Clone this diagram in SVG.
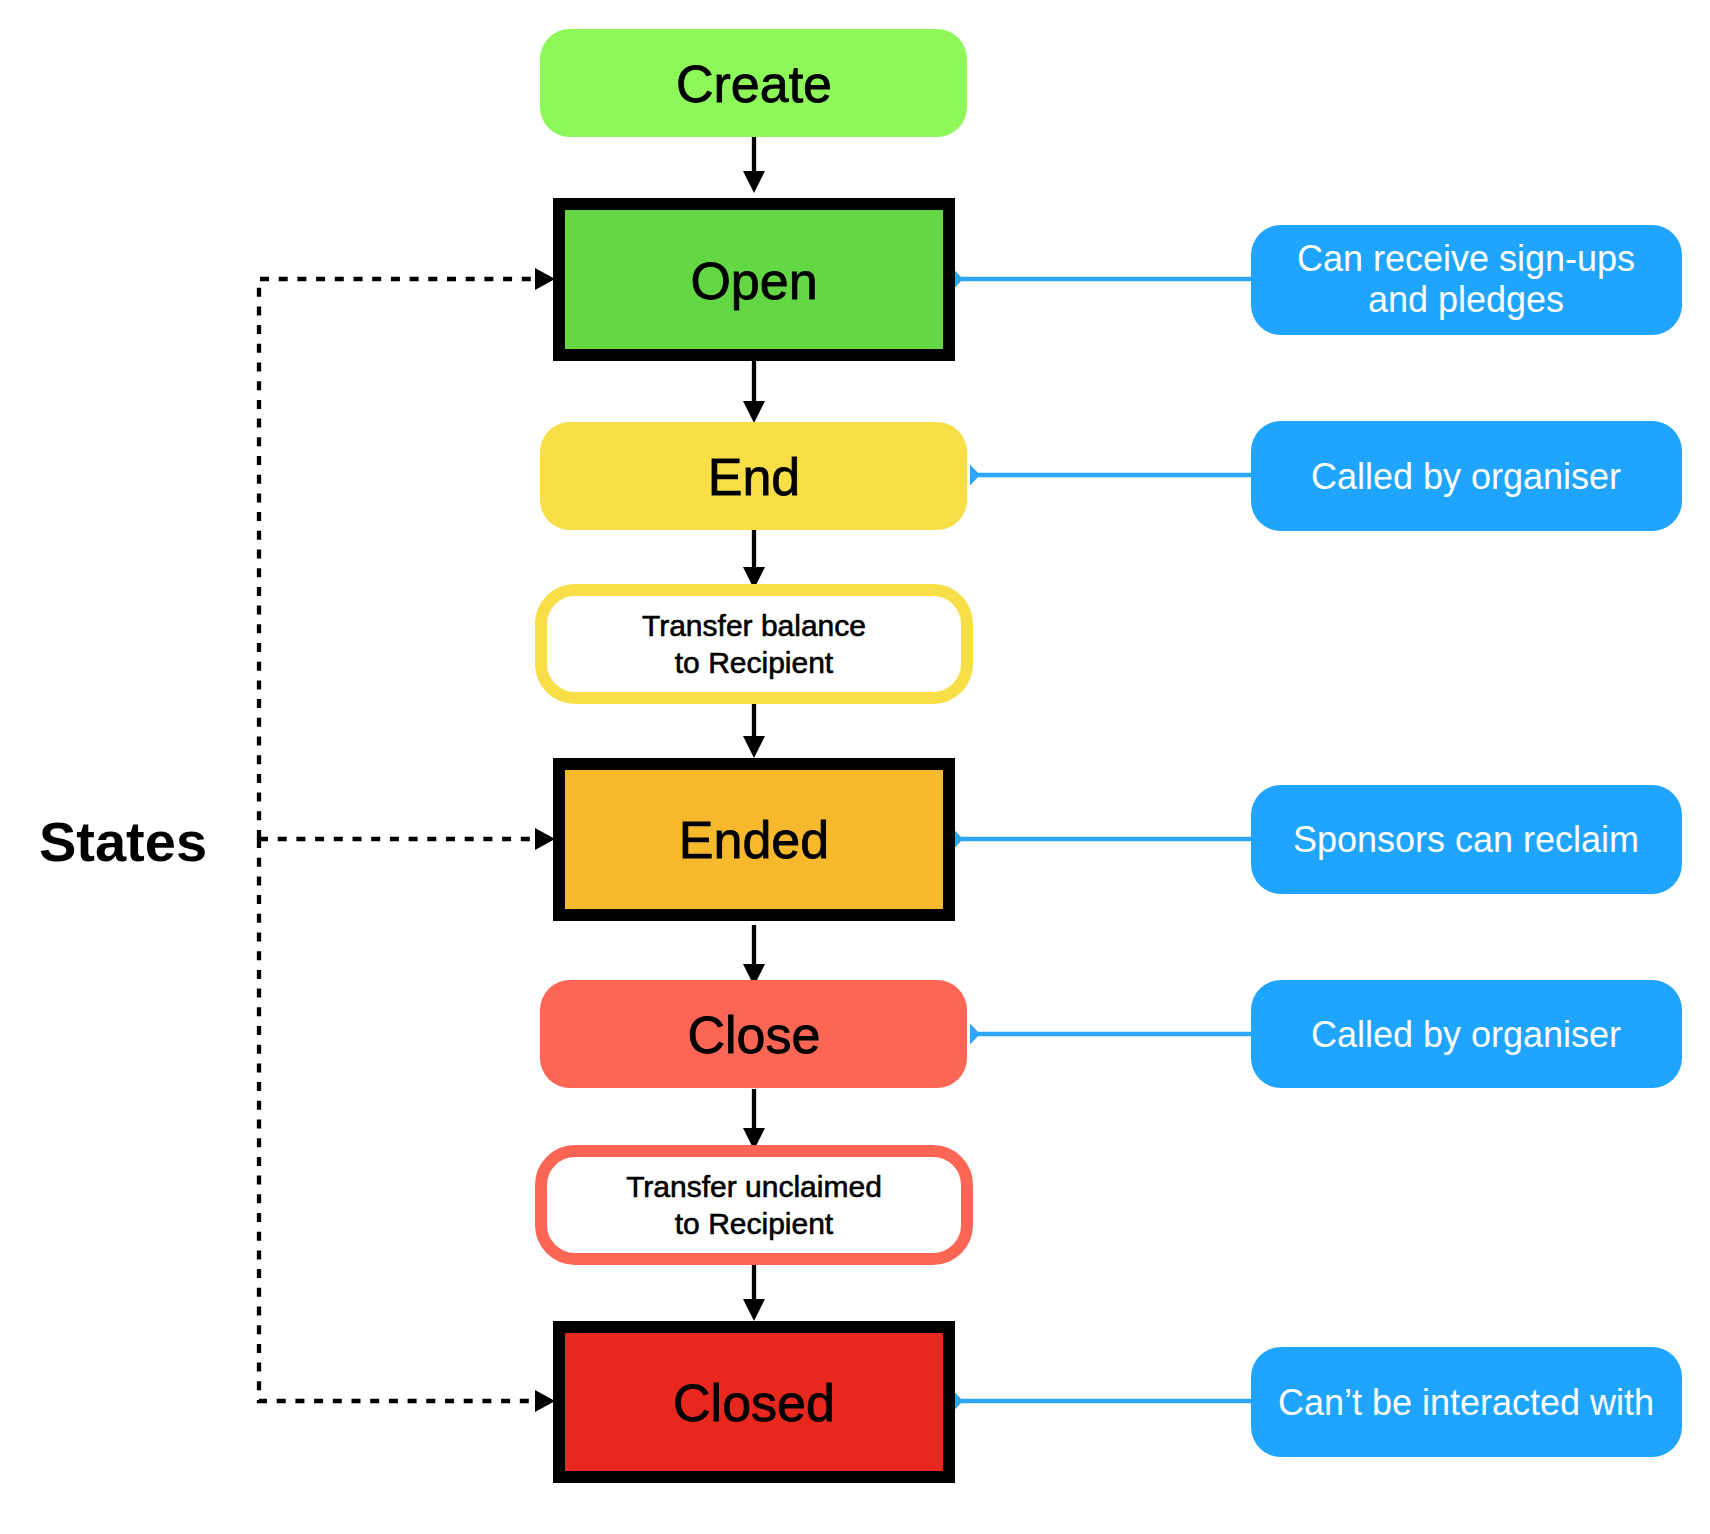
<svg xmlns="http://www.w3.org/2000/svg" width="1710" height="1534" viewBox="0 0 1710 1534">
  <style>
    text { font-family: "Liberation Sans", Arial, sans-serif; text-anchor: middle; }
    .big { font-size: 52px; fill: #000; stroke: #000; stroke-width: 0.8; }
    .small { font-size: 30px; fill: #000; stroke: #000; stroke-width: 0.6; }
    .note { font-size: 36px; fill: #fff; }
    .title { font-size: 56px; font-weight: bold; fill: #000; }
    .state { stroke: #000; stroke-width: 12; }
    .action { stroke: none; }
    .step { fill: #fff; stroke-width: 12; }
    .blue { fill: #1FA5FD; }
    .flow { fill: none; stroke: #000; stroke-width: 4.3; marker-end: url(#ah); }
    .dots { fill: none; stroke: #000; stroke-width: 4.3; stroke-dasharray: 9 9.7; marker-end: url(#dh); }
    .link { fill: none; stroke: #2BA6F8; stroke-width: 4.5; marker-end: url(#bh); }
  </style>
  <defs>
    <marker id="ah" markerUnits="userSpaceOnUse" viewBox="0 0 22 22" refX="11" refY="11" markerWidth="22" markerHeight="22" orient="auto">
      <path d="M0,0 L22,11 L0,22 Z" fill="#000"/>
    </marker>
    <marker id="dh" markerUnits="userSpaceOnUse" viewBox="0 0 20 22" refX="10" refY="11" markerWidth="20" markerHeight="22" orient="auto">
      <path d="M0,0 L20,11 L0,22 Z" fill="#000"/>
    </marker>
    <marker id="bh" markerUnits="userSpaceOnUse" viewBox="-12 -11 14 22" refX="0" refY="0" markerWidth="14" markerHeight="22" orient="auto">
      <path d="M0,-10.5 L0,10.5 L-10,0 Z" fill="#2BA6F8"/>
    </marker>
  </defs>

  <g id="connectors">
    <path class="flow" d="M754,137 V182"/>
    <path class="flow" d="M754,361 V412"/>
    <path class="flow" d="M754,530 V578"/>
    <path class="flow" d="M754,702 V747"/>
    <path class="flow" d="M754,925 V975"/>
    <path class="flow" d="M754,1089 V1139"/>
    <path class="flow" d="M754,1263 V1310"/>

    <path class="dots" d="M259,839 V279 H545"/>
    <path class="dots" d="M259,839 H545"/>
    <path class="dots" d="M259,839 V1401 H545"/>

    <path class="link" d="M1251,279 H953"/>
    <path class="link" d="M1251,475 H970"/>
    <path class="link" d="M1251,839 H953"/>
    <path class="link" d="M1251,1034 H970"/>
    <path class="link" d="M1251,1401 H953"/>
  </g>

  <g id="states-label">
    <text class="title" x="123" y="861">States</text>
  </g>

  <g id="create">
    <rect class="action" x="540" y="29" width="427" height="108" rx="30" fill="#8EF85B"/>
    <text class="big" x="754" y="102">Create</text>
  </g>
  <g id="open">
    <rect class="state" x="559" y="204" width="390" height="151" fill="#63D744"/>
    <text class="big" x="754" y="299">Open</text>
  </g>
  <g id="end">
    <rect class="action" x="540" y="422" width="427" height="108" rx="30" fill="#F8DF48"/>
    <text class="big" x="754" y="495">End</text>
  </g>
  <g id="transfer-balance">
    <rect class="step" x="541" y="590" width="426" height="108" rx="34" stroke="#F8DF48"/>
    <text class="small" x="754" y="636">Transfer balance</text>
    <text class="small" x="754" y="673">to Recipient</text>
  </g>
  <g id="ended">
    <rect class="state" x="559" y="764" width="390" height="151" fill="#F6B82C"/>
    <text class="big" x="754" y="858">Ended</text>
  </g>
  <g id="close">
    <rect class="action" x="540" y="980" width="427" height="108" rx="30" fill="#FD6654"/>
    <text class="big" x="754" y="1053">Close</text>
  </g>
  <g id="transfer-unclaimed">
    <rect class="step" x="541" y="1151" width="426" height="108" rx="34" stroke="#FD6654"/>
    <text class="small" x="754" y="1197">Transfer unclaimed</text>
    <text class="small" x="754" y="1234">to Recipient</text>
  </g>
  <g id="closed">
    <rect class="state" x="559" y="1327" width="390" height="150" fill="#E8281F"/>
    <text class="big" x="754" y="1421">Closed</text>
  </g>

  <g id="note-open">
    <rect class="blue" x="1251" y="225" width="431" height="110" rx="30"/>
    <text class="note" x="1466" y="271">Can receive sign-ups</text>
    <text class="note" x="1466" y="312">and pledges</text>
  </g>
  <g id="note-end">
    <rect class="blue" x="1251" y="421" width="431" height="110" rx="30"/>
    <text class="note" x="1466" y="489">Called by organiser</text>
  </g>
  <g id="note-ended">
    <rect class="blue" x="1251" y="785" width="431" height="109" rx="30"/>
    <text class="note" x="1466" y="852">Sponsors can reclaim</text>
  </g>
  <g id="note-close">
    <rect class="blue" x="1251" y="980" width="431" height="108" rx="30"/>
    <text class="note" x="1466" y="1047">Called by organiser</text>
  </g>
  <g id="note-closed">
    <rect class="blue" x="1251" y="1347" width="431" height="110" rx="30"/>
    <text class="note" x="1466" y="1415">Can’t be interacted with</text>
  </g>
</svg>
